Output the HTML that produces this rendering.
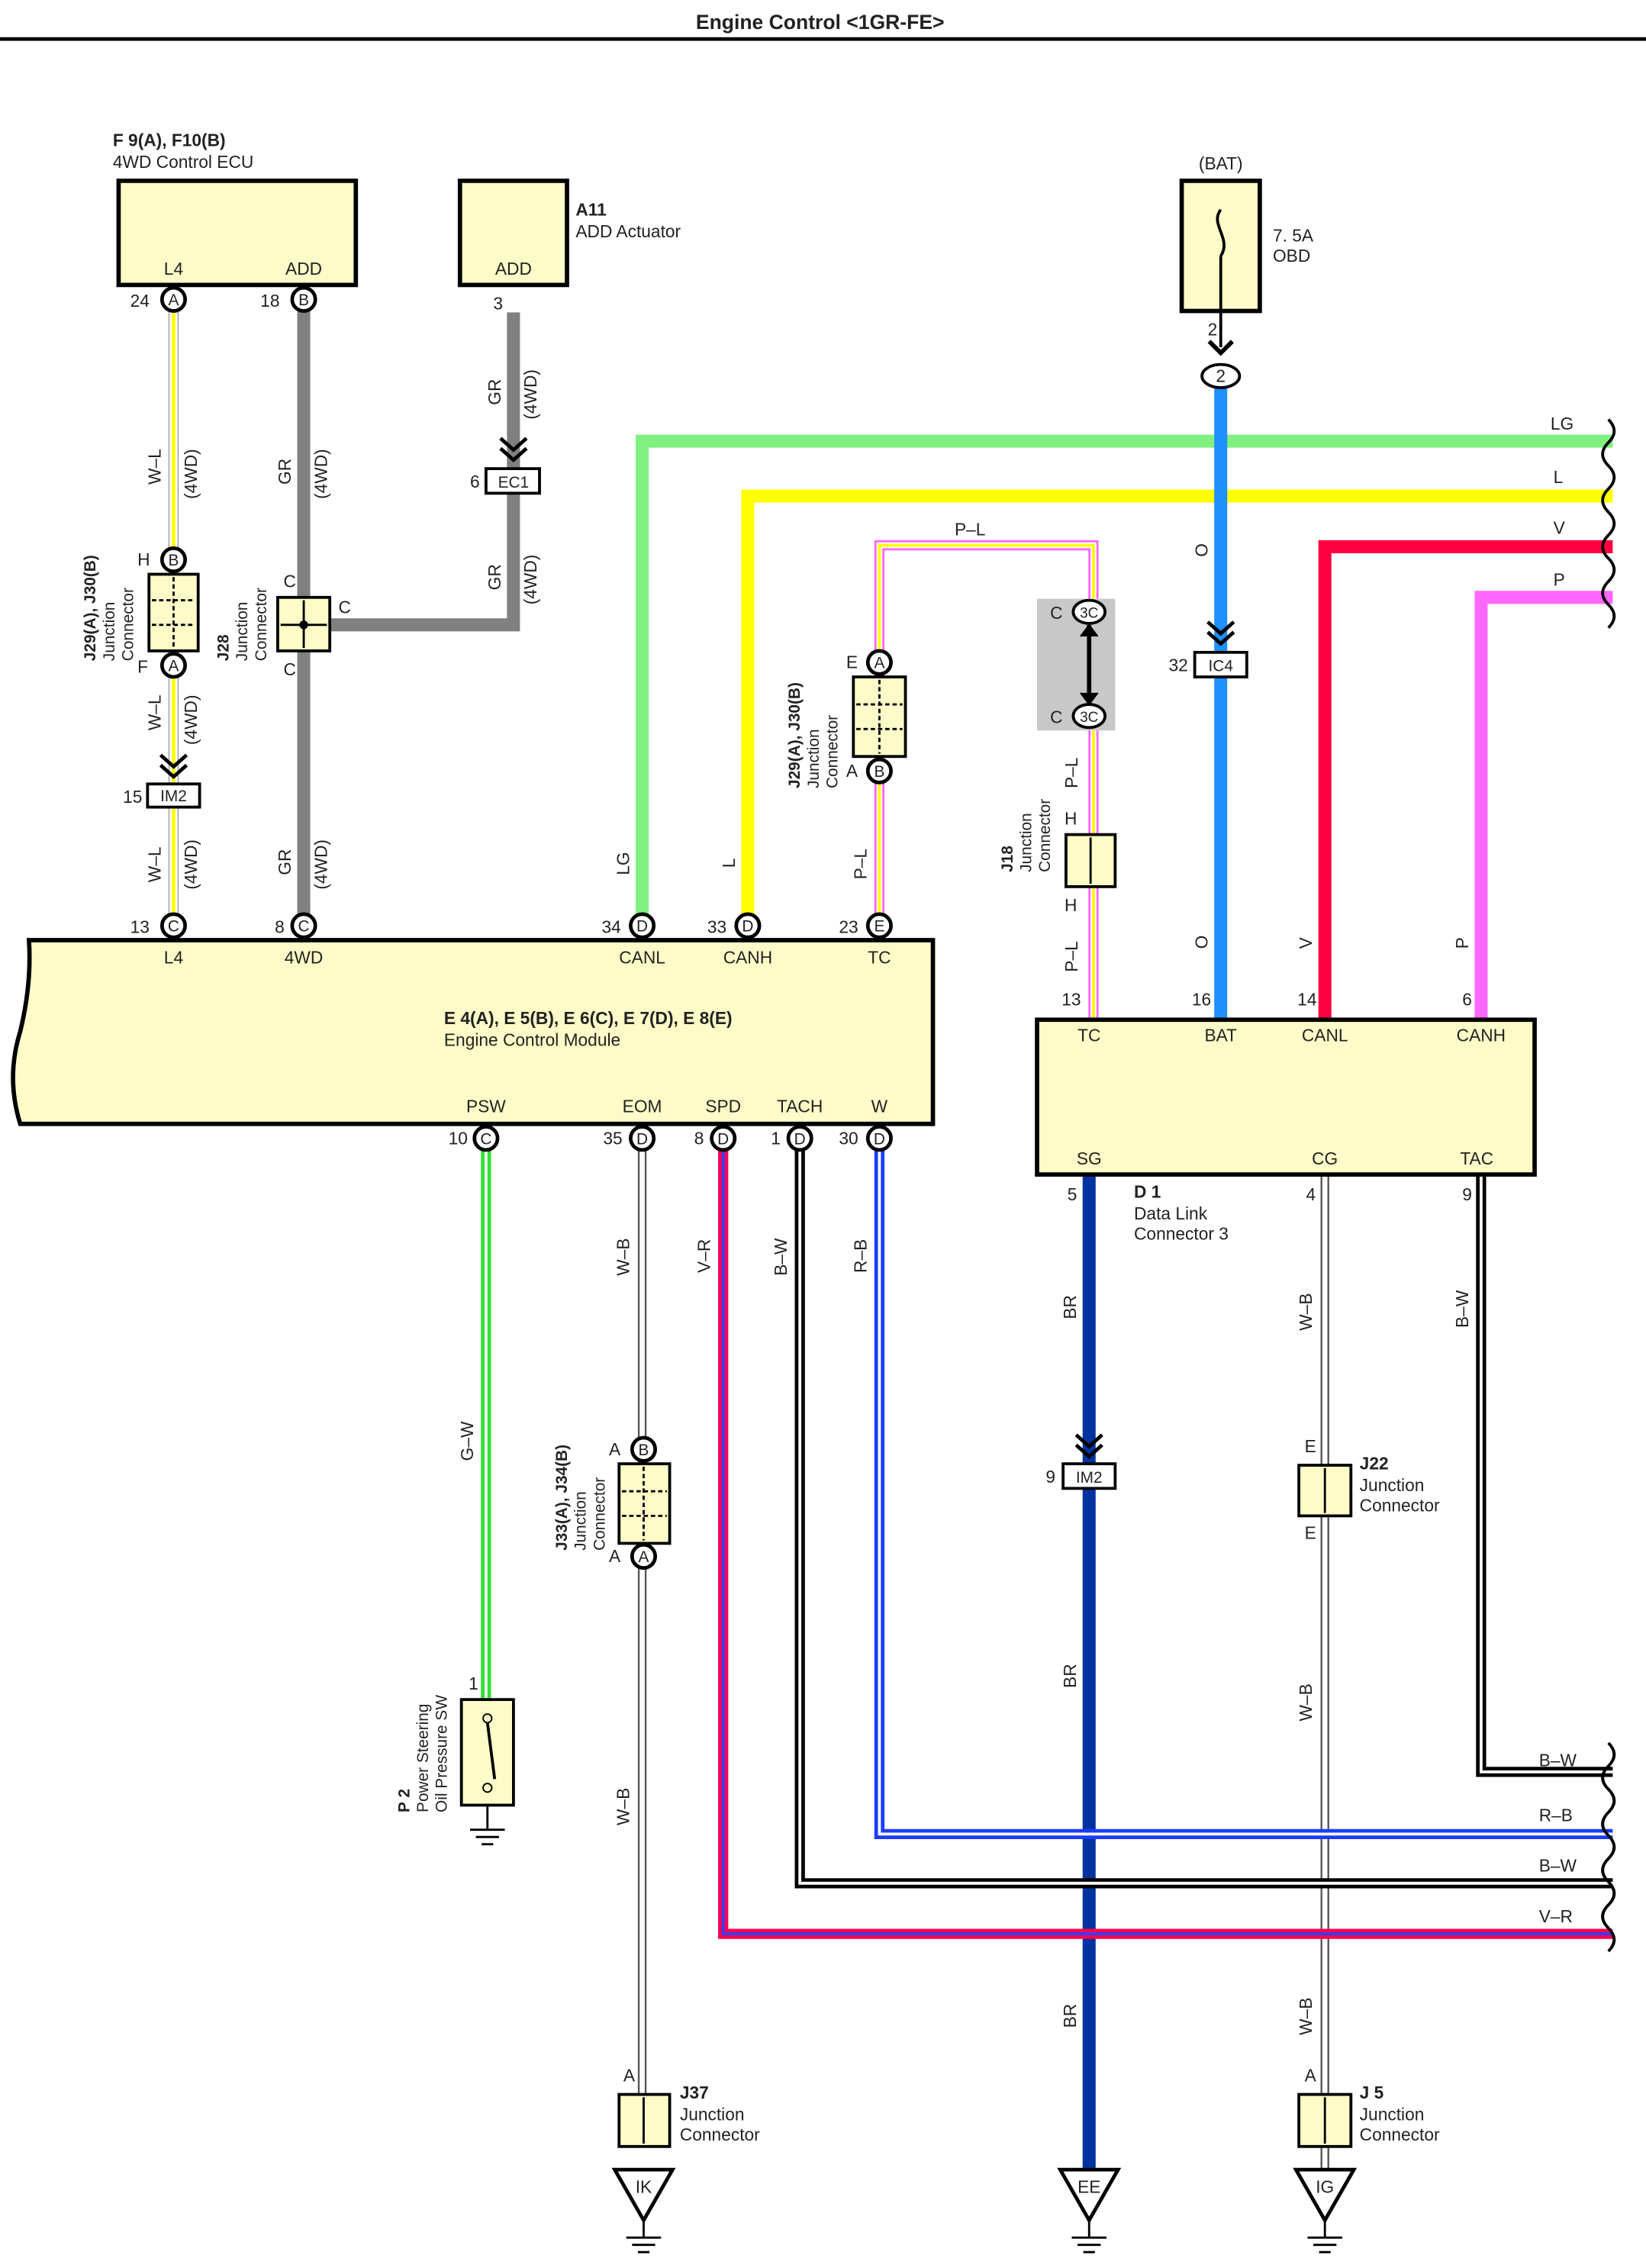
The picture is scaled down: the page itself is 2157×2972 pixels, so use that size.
<!DOCTYPE html>
<html><head><meta charset="utf-8"><style>
html,body{margin:0;padding:0;background:#fff}
svg{display:block}
text{font-family:"Liberation Sans",sans-serif;fill:#222}
.s{font-size:12px}.b{font-weight:bold}
</style></head><body>
<svg width="2157" height="2972" viewBox="0 0 1138 1568" xmlns="http://www.w3.org/2000/svg">
<defs>
<g id="pin"><circle r="8" fill="#fff" stroke="#000" stroke-width="2.5"/></g>
</defs>
<text x="567" y="20" text-anchor="middle" class="b" font-size="14">Engine Control &lt;1GR-FE&gt;</text>
<line x1="0" y1="27" x2="1138" y2="27" stroke="#000" stroke-width="2.5"/>

<g fill="none" stroke-linejoin="miter">
<path d="M120 215V632" stroke="#999" stroke-width="7"/><path d="M120 215V632" stroke="#fff" stroke-width="5.5"/><path d="M120 215V632" stroke="#ff0" stroke-width="2.5"/>
<path d="M210 215V632" stroke="#808080" stroke-width="9"/>
<path d="M355 216V432H228" stroke="#808080" stroke-width="9"/>
<path d="M444 632V305H1115" stroke="#80f080" stroke-width="9"/>
<path d="M517 632V343H1115" stroke="#ffff00" stroke-width="9"/>
<path d="M916 705V378H1115" stroke="#ff0040" stroke-width="9"/>
<path d="M1024 705V413H1115" stroke="#ff66ff" stroke-width="9"/>
<path d="M608 632V377H756V705" stroke="#ff66ff" stroke-width="7"/><path d="M608 632V377H756V705" stroke="#fff" stroke-width="4"/><path d="M608 632V377H756V705" stroke="#ff0" stroke-width="2"/>
<path d="M844 268V705" stroke="#1e90ff" stroke-width="9"/>
<path d="M753 812V1500" stroke="#0033a0" stroke-width="9"/>
<path d="M916 812V1500" stroke="#555" stroke-width="6"/><path d="M916 812V1500" stroke="#fff" stroke-width="3.5"/>
<path d="M444 795V1448" stroke="#555" stroke-width="6"/><path d="M444 795V1448" stroke="#fff" stroke-width="3.5"/>
<path d="M1024 812V1225H1115" stroke="#000" stroke-width="7"/><path d="M1024 812V1225H1115" stroke="#fff" stroke-width="2"/>
<path d="M608 795V1268H1115" stroke="#1a3cff" stroke-width="7"/><path d="M608 795V1268H1115" stroke="#fff" stroke-width="2"/>
<path d="M553 795V1302H1115" stroke="#000" stroke-width="7"/><path d="M553 795V1302H1115" stroke="#fff" stroke-width="2"/>
<path d="M500 795V1337H1115" stroke="#ff0050" stroke-width="7"/><path d="M500 795V1337H1115" stroke="#3040ff" stroke-width="2"/>
<path d="M336 795V1180" stroke="#30e030" stroke-width="7"/><path d="M336 795V1180" stroke="#fff" stroke-width="2"/>
</g>

<g fill="none" stroke="#000" stroke-width="2">
<path d="M1112 290q8 8 0 16q-8 8 0 16q8 8 0 16q-8 8 0 16q8 8 0 16q-8 8 0 16q8 8 0 16q-8 8 0 16q8 8 0 16"/>
<path d="M1112 1205q8 8 0 16q-8 8 0 16q8 8 0 16q-8 8 0 16q8 8 0 16q-8 8 0 16q8 8 0 16q-8 8 0 16q8 8 0 16"/>
</g>

<g fill="#fdfcc8" stroke="#000" stroke-width="3">
<rect x="82" y="125" width="164" height="72"/>
<rect x="318" y="125" width="74" height="72"/>
<rect x="817" y="125" width="54" height="90"/>
<path d="M20 650H645V777H14Q4 745 14 713Q22 680 20 650Z"/>
<rect x="717" y="705" width="344" height="107"/>
</g>
<path d="M844 145c-8 10 8 20 0 32" fill="none" stroke="#000" stroke-width="2"/>
<line x1="844" y1="177" x2="844" y2="240" stroke="#000" stroke-width="2"/>
<path d="M836 236l8 8 8-8" fill="none" stroke="#000" stroke-width="3"/>
<ellipse cx="844" cy="260" rx="13" ry="8" fill="#fff" stroke="#000" stroke-width="2"/><text x="844" y="264" text-anchor="middle" class="s">2</text>
<text x="835" y="232" class="s">2</text>

<text x="78" y="101" class="b s">F 9(A), F10(B)</text><text x="78" y="116" class="s">4WD Control ECU</text>
<text x="120" y="190" text-anchor="middle" class="s">L4</text><text x="210" y="190" text-anchor="middle" class="s">ADD</text>
<text x="355" y="190" text-anchor="middle" class="s">ADD</text>
<text x="398" y="149" class="b s">A11</text><text x="398" y="164" class="s">ADD Actuator</text>
<text x="844" y="117" text-anchor="middle" class="s">(BAT)</text>
<text x="880" y="167" class="s">7. 5A</text><text x="880" y="181" class="s">OBD</text>

<g fill="#fdfcc8" stroke="#000" stroke-width="2">
<rect x="103" y="397" width="34" height="53"/>
<rect x="192" y="413" width="36" height="37"/>
<rect x="590" y="468" width="36" height="55"/>
<rect x="737" y="577" width="34" height="36"/>
<rect x="428" y="1012" width="35" height="55"/>
<rect x="898" y="1013" width="36" height="35"/>
<rect x="898" y="1448" width="36" height="36"/>
<rect x="428" y="1448" width="35" height="36"/>
<rect x="319" y="1175" width="36" height="73"/>
</g>
<g stroke="#000" stroke-width="1.5" stroke-dasharray="3 2">
<line x1="120" y1="399" x2="120" y2="448"/><line x1="105" y1="415" x2="135" y2="415"/><line x1="105" y1="432" x2="135" y2="432"/>
<line x1="608" y1="470" x2="608" y2="521"/><line x1="592" y1="487" x2="624" y2="487"/><line x1="592" y1="504" x2="624" y2="504"/>
<line x1="445" y1="1014" x2="445" y2="1065"/><line x1="430" y1="1031" x2="461" y2="1031"/><line x1="430" y1="1048" x2="461" y2="1048"/>
</g>
<line x1="754" y1="579" x2="754" y2="611" stroke="#000" stroke-width="1.5"/>
<line x1="210" y1="415" x2="210" y2="448" stroke="#000" stroke-width="1.5"/><line x1="194" y1="432" x2="226" y2="432" stroke="#000" stroke-width="1.5"/><circle cx="210" cy="432" r="3"/>
<line x1="916" y1="1015" x2="916" y2="1046" stroke="#000" stroke-width="1.5"/>
<line x1="916" y1="1450" x2="916" y2="1482" stroke="#000" stroke-width="1.5"/>
<line x1="445" y1="1450" x2="445" y2="1482" stroke="#000" stroke-width="1.5"/>
<circle cx="337" cy="1188" r="3" fill="none" stroke="#000"/><circle cx="337" cy="1236" r="3" fill="none" stroke="#000"/>
<line x1="337" y1="1191" x2="342" y2="1230" stroke="#000" stroke-width="2"/>
<path d="M337 1248V1265M325 1265h24M329 1270h16M333 1275h8" stroke="#000" stroke-width="1.5" fill="none"/>

<rect x="717" y="414" width="54" height="91" fill="#c8c8c8"/>
<line x1="753" y1="432" x2="753" y2="487" stroke="#000" stroke-width="3"/>
<path d="M747 440l6-8 6 8M747 479l6 8 6-8" fill="#000" stroke="#000"/>
<g font-size="10">
<ellipse cx="753" cy="423" rx="11" ry="8" fill="#fff" stroke="#000" stroke-width="2"/><text x="753" y="427" text-anchor="middle">3C</text>
<ellipse cx="753" cy="495" rx="11" ry="8" fill="#fff" stroke="#000" stroke-width="2"/><text x="753" y="499" text-anchor="middle">3C</text>
</g>
<text x="726" y="428" class="s">C</text><text x="726" y="500" class="s">C</text>

<g fill="#fff" stroke="#000" stroke-width="2">
<rect x="102" y="542" width="36" height="16"/><rect x="336" y="324" width="37" height="17"/>
<rect x="826" y="451" width="36" height="17"/><rect x="735" y="1012" width="36" height="17"/>
</g>
<g font-size="11"><text x="120" y="554" text-anchor="middle">IM2</text><text x="355" y="337" text-anchor="middle">EC1</text>
<text x="844" y="464" text-anchor="middle">IC4</text><text x="753" y="1025" text-anchor="middle">IM2</text></g>
<text x="85" y="555" class="s">15</text><text x="325" y="337" class="s">6</text><text x="808" y="464" class="s">32</text><text x="723" y="1025" class="s">9</text>
<g fill="none" stroke="#000" stroke-width="2.5">
<path d="M111 522l9 8 9-8M111 529l9 8 9-8"/><path d="M346 303l9 8 9-8M346 310l9 8 9-8"/>
<path d="M835 430l9 8 9-8M835 437l9 8 9-8"/><path d="M744 992l9 8 9-8M744 999l9 8 9-8"/>
</g>

<g fill="#fff" stroke="#000" stroke-width="2.5">
<path d="M425 1500h40l-20 35z"/><path d="M733 1500h40l-20 35z"/><path d="M896 1500h40l-20 35z"/>
</g>
<g font-size="12"><text x="445" y="1516" text-anchor="middle">IK</text><text x="753" y="1516" text-anchor="middle">EE</text><text x="916" y="1516" text-anchor="middle">IG</text></g>
<path d="M445 1535v12M433 1547h24M437 1552h16M441 1557h8M753 1535v12M741 1547h24M745 1552h16M749 1557h8M916 1535v12M904 1547h24M908 1552h16M912 1557h8" stroke="#000" stroke-width="1.5" fill="none"/>

<g font-size="11">
<use href="#pin" x="120" y="207"/><text x="120" y="211" text-anchor="middle">A</text>
<use href="#pin" x="210" y="207"/><text x="210" y="211" text-anchor="middle">B</text>
<use href="#pin" x="120" y="387"/><text x="120" y="391" text-anchor="middle">B</text>
<use href="#pin" x="120" y="460"/><text x="120" y="464" text-anchor="middle">A</text>
<use href="#pin" x="120" y="640"/><text x="120" y="644" text-anchor="middle">C</text>
<use href="#pin" x="210" y="640"/><text x="210" y="644" text-anchor="middle">C</text>
<use href="#pin" x="444" y="640"/><text x="444" y="644" text-anchor="middle">D</text>
<use href="#pin" x="517" y="640"/><text x="517" y="644" text-anchor="middle">D</text>
<use href="#pin" x="608" y="640"/><text x="608" y="644" text-anchor="middle">E</text>
<use href="#pin" x="608" y="458"/><text x="608" y="462" text-anchor="middle">A</text>
<use href="#pin" x="608" y="533"/><text x="608" y="537" text-anchor="middle">B</text>
<use href="#pin" x="336" y="787"/><text x="336" y="791" text-anchor="middle">C</text>
<use href="#pin" x="444" y="787"/><text x="444" y="791" text-anchor="middle">D</text>
<use href="#pin" x="500" y="787"/><text x="500" y="791" text-anchor="middle">D</text>
<use href="#pin" x="553" y="787"/><text x="553" y="791" text-anchor="middle">D</text>
<use href="#pin" x="608" y="787"/><text x="608" y="791" text-anchor="middle">D</text>
<use href="#pin" x="445" y="1002"/><text x="445" y="1006" text-anchor="middle">B</text>
<use href="#pin" x="445" y="1076"/><text x="445" y="1080" text-anchor="middle">A</text>
</g>
<g class="s">
<text x="90" y="212">24</text><text x="180" y="212">18</text><text x="341" y="214">3</text>
<text x="95" y="391">H</text><text x="95" y="465">F</text>
<text x="196" y="406">C</text><text x="234" y="424">C</text><text x="196" y="467">C</text>
<text x="90" y="645">13</text><text x="190" y="645">8</text><text x="416" y="645">34</text><text x="489" y="645">33</text><text x="580" y="645">23</text>
<text x="585" y="462">E</text><text x="585" y="537">A</text>
<text x="310" y="791">10</text><text x="417" y="791">35</text><text x="480" y="791">8</text><text x="533" y="791">1</text><text x="580" y="791">30</text>
<text x="421" y="1006">A</text><text x="421" y="1080">A</text>
<text x="736" y="570">H</text><text x="736" y="630">H</text>
<text x="734" y="695">13</text><text x="824" y="695">16</text><text x="897" y="695">14</text><text x="1011" y="695">6</text>
<text x="738" y="830">5</text><text x="903" y="830">4</text><text x="1011" y="830">9</text>
<text x="902" y="1004">E</text><text x="902" y="1064">E</text><text x="902" y="1439">A</text><text x="431" y="1439">A</text>
<text x="324" y="1168">1</text>
<text x="120" y="666" text-anchor="middle">L4</text><text x="210" y="666" text-anchor="middle">4WD</text>
<text x="444" y="666" text-anchor="middle">CANL</text><text x="517" y="666" text-anchor="middle">CANH</text><text x="608" y="666" text-anchor="middle">TC</text>
<text x="336" y="769" text-anchor="middle">PSW</text><text x="444" y="769" text-anchor="middle">EOM</text><text x="500" y="769" text-anchor="middle">SPD</text><text x="553" y="769" text-anchor="middle">TACH</text><text x="608" y="769" text-anchor="middle">W</text>
<text x="307" y="708" class="b">E 4(A), E 5(B), E 6(C), E 7(D), E 8(E)</text><text x="307" y="723">Engine Control Module</text>
<text x="753" y="720" text-anchor="middle">TC</text><text x="844" y="720" text-anchor="middle">BAT</text><text x="916" y="720" text-anchor="middle">CANL</text><text x="1024" y="720" text-anchor="middle">CANH</text>
<text x="753" y="805" text-anchor="middle">SG</text><text x="916" y="805" text-anchor="middle">CG</text><text x="1021" y="805" text-anchor="middle">TAC</text>
<text x="784" y="828" class="b">D 1</text><text x="784" y="843">Data Link</text><text x="784" y="857">Connector 3</text>
<text x="940" y="1016" class="b">J22</text><text x="940" y="1031">Junction</text><text x="940" y="1045">Connector</text>
<text x="940" y="1451" class="b">J 5</text><text x="940" y="1466">Junction</text><text x="940" y="1480">Connector</text>
<text x="470" y="1451" class="b">J37</text><text x="470" y="1466">Junction</text><text x="470" y="1480">Connector</text>
<text x="1072" y="297">LG</text><text x="1074" y="334">L</text><text x="1074" y="369">V</text><text x="1074" y="405">P</text>
<text x="1064" y="1221">B–W</text><text x="1064" y="1259">R–B</text><text x="1064" y="1294">B–W</text><text x="1064" y="1329">V–R</text>
<text x="660" y="370">P–L</text>
</g>
<g class="s">
<text transform="translate(111,335) rotate(-90)">W–L</text><text transform="translate(136,345) rotate(-90)">(4WD)</text>
<text transform="translate(111,505) rotate(-90)">W–L</text><text transform="translate(136,515) rotate(-90)">(4WD)</text>
<text transform="translate(111,610) rotate(-90)">W–L</text><text transform="translate(136,615) rotate(-90)">(4WD)</text>
<text transform="translate(201,335) rotate(-90)">GR</text><text transform="translate(226,345) rotate(-90)">(4WD)</text>
<text transform="translate(201,605) rotate(-90)">GR</text><text transform="translate(226,615) rotate(-90)">(4WD)</text>
<text transform="translate(346,280) rotate(-90)">GR</text><text transform="translate(371,290) rotate(-90)">(4WD)</text>
<text transform="translate(346,408) rotate(-90)">GR</text><text transform="translate(371,418) rotate(-90)">(4WD)</text>
<text transform="translate(435,605) rotate(-90)">LG</text><text transform="translate(508,600) rotate(-90)">L</text>
<text transform="translate(599,608) rotate(-90)">P–L</text>
<text transform="translate(745,545) rotate(-90)">P–L</text><text transform="translate(745,672) rotate(-90)">P–L</text>
<text transform="translate(835,385) rotate(-90)">O</text><text transform="translate(835,656) rotate(-90)">O</text>
<text transform="translate(907,656) rotate(-90)">V</text><text transform="translate(1015,656) rotate(-90)">P</text>
<text transform="translate(435,882) rotate(-90)">W–B</text><text transform="translate(491,880) rotate(-90)">V–R</text>
<text transform="translate(544,882) rotate(-90)">B–W</text><text transform="translate(599,880) rotate(-90)">R–B</text>
<text transform="translate(327,1010) rotate(-90)">G–W</text><text transform="translate(435,1262) rotate(-90)">W–B</text>
<text transform="translate(744,912) rotate(-90)">BR</text><text transform="translate(744,1167) rotate(-90)">BR</text><text transform="translate(744,1402) rotate(-90)">BR</text>
<text transform="translate(907,920) rotate(-90)">W–B</text><text transform="translate(907,1190) rotate(-90)">W–B</text><text transform="translate(907,1407) rotate(-90)">W–B</text>
<text transform="translate(1015,918) rotate(-90)">B–W</text>
</g>
<g font-size="11">
<text transform="translate(66,457) rotate(-90)" class="b">J29(A), J30(B)</text><text transform="translate(79,457) rotate(-90)">Junction</text><text transform="translate(92,457) rotate(-90)">Connector</text>
<text transform="translate(158,457) rotate(-90)" class="b">J28</text><text transform="translate(171,457) rotate(-90)">Junction</text><text transform="translate(184,457) rotate(-90)">Connector</text>
<text transform="translate(553,545) rotate(-90)" class="b">J29(A), J30(B)</text><text transform="translate(566,545) rotate(-90)">Junction</text><text transform="translate(579,545) rotate(-90)">Connector</text>
<text transform="translate(700,603) rotate(-90)" class="b">J18</text><text transform="translate(713,603) rotate(-90)">Junction</text><text transform="translate(726,603) rotate(-90)">Connector</text>
<text transform="translate(392,1072) rotate(-90)" class="b">J33(A), J34(B)</text><text transform="translate(405,1072) rotate(-90)">Junction</text><text transform="translate(418,1072) rotate(-90)">Connector</text>
<text transform="translate(283,1253) rotate(-90)" class="b">P 2</text><text transform="translate(296,1253) rotate(-90)">Power Steering</text><text transform="translate(309,1253) rotate(-90)">Oil Pressure SW</text>
</g>
</svg>
</body></html>
